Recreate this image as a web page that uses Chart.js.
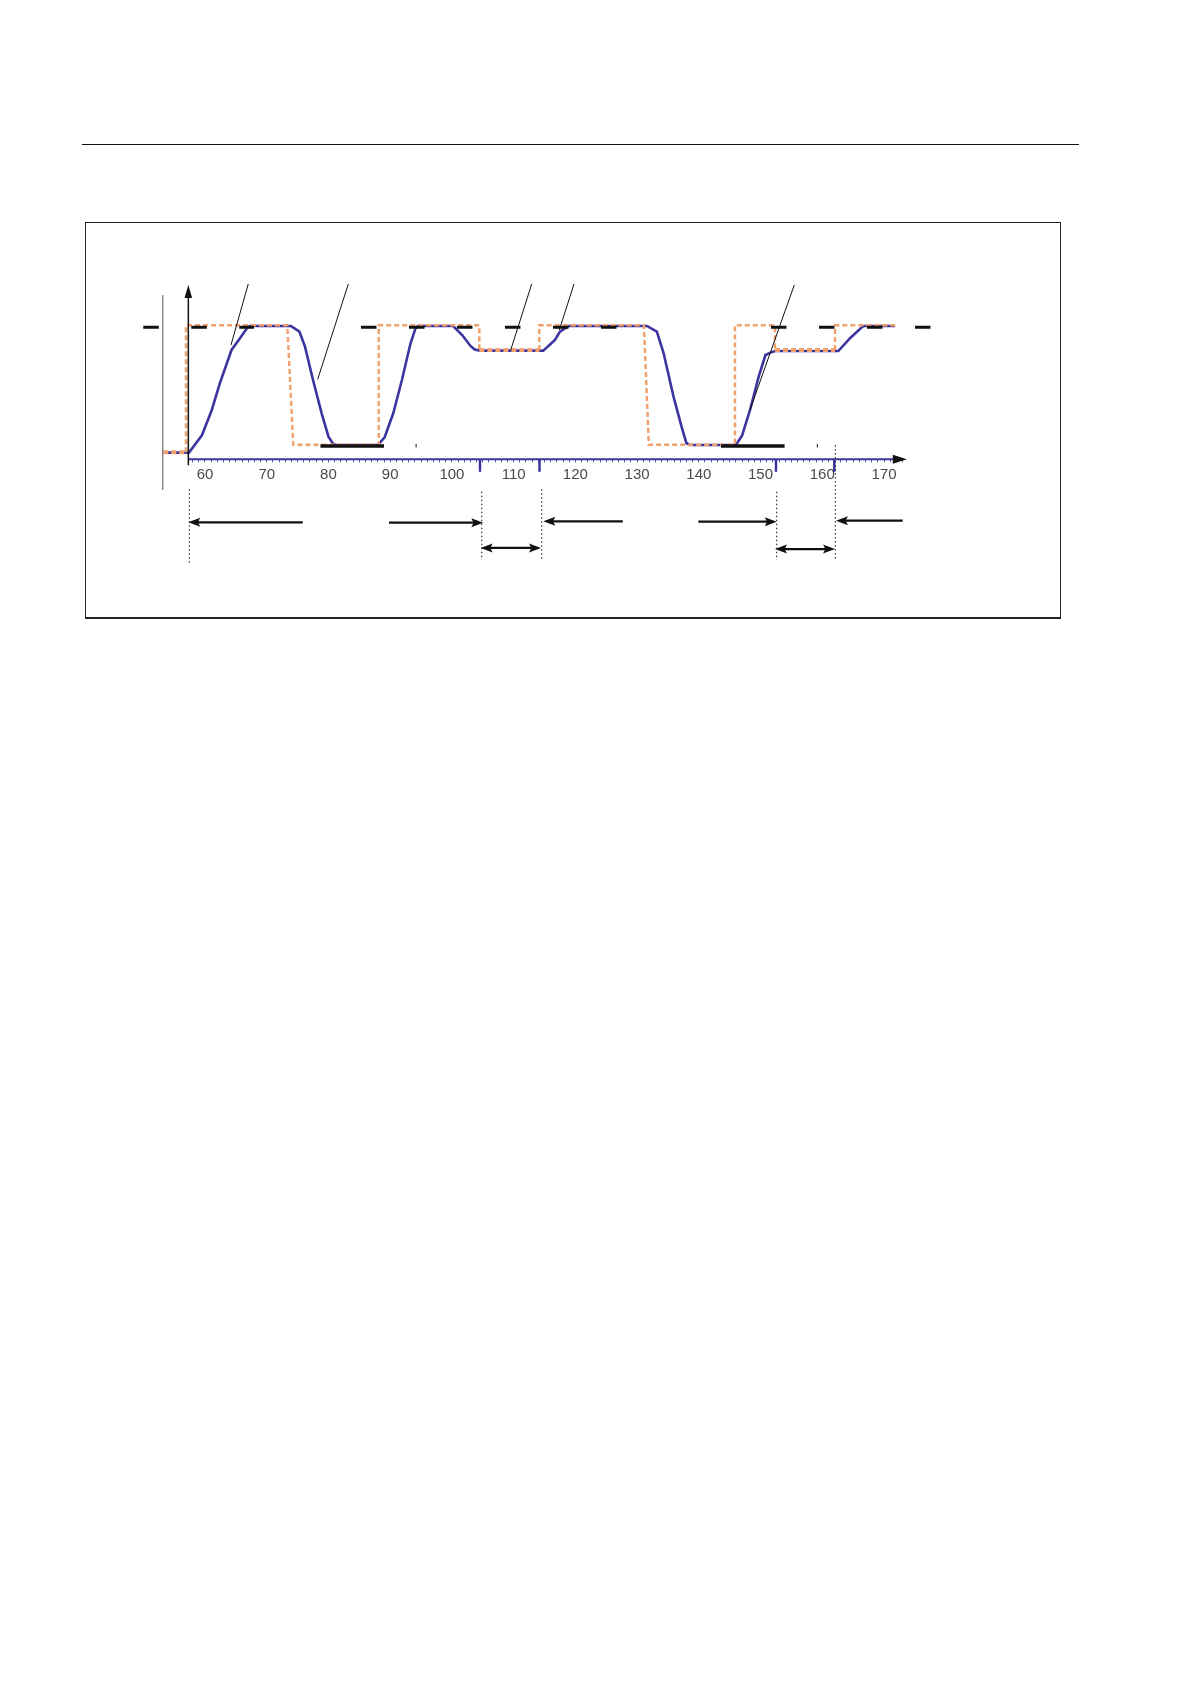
<!DOCTYPE html>
<html>
<head>
<meta charset="utf-8">
<title>Setpoint / actual trace</title>
<script src="https://cdn.jsdelivr.net/npm/chart.js@4.4.1/dist/chart.umd.min.js"></script>
<style>
  html, body { margin: 0; padding: 0; background: #fff; }
  #page { position: relative; width: 1190px; height: 1684px; background: #fff; overflow: hidden; }
  .rule { position: absolute; left: 82px; top: 144px; width: 997px; height: 0; border-top: 1.5px solid #111; }
  .frame { position: absolute; left: 85px; top: 222px; width: 976px; height: 397px; border: 1.5px solid #222; border-bottom-width: 2px; box-sizing: border-box; }
  #trace { position: absolute; left: 0; top: 0; }
</style>
</head>
<body>
<div id="page">
  <div class="rule"></div>
  <div class="frame"></div>
  <canvas id="trace" width="1190" height="640"></canvas>
</div>
<script>
  // axis labels
  const tickLabels = [60, 70, 80, 90, 100, 110, 120, 130, 140, 150, 160, 170];

  // setpoint (orange dashed step)
  const setpointX = [53.24, 56.92, 56.92, 73.33, 74.30, 88.15, 88.15, 104.44, 104.44, 114.16, 114.16, 131.1, 131.9, 145.86, 145.86, 152.34, 152.34, 162.06, 162.06, 171.78];
  const setpointY = [5.25, 5.25, 100.5, 100.5, 11, 11, 100.5, 100.5, 82, 82, 100.5, 100.5, 11, 11, 100.5, 100.5, 82, 82, 100.5, 100.5];

  // actual value (blue solid)
  const actualX = [53.24, 57.4, 59.5, 61.1, 62.4, 64.3, 65.7, 66.8, 67.3, 73.9, 75.3, 76.2, 77.5, 78.9, 80.0, 80.7, 81.2, 88.0, 89.1, 90.5, 91.9, 93.3, 94.1, 94.5, 100.2, 101.7, 103.0, 103.7, 104.5, 114.8, 116.7, 117.5, 118.5, 119.0, 131.6, 133.2, 134.3, 135.9, 137.2, 138.0, 138.6, 146.0, 147.0, 148.3, 149.7, 150.8, 151.6, 152.4, 162.6, 164.5, 166.4, 166.8, 171.8];
  const actualY = [5, 5, 18, 37, 57, 82, 91, 98.3, 100, 100, 95.7, 84.5, 59.5, 34.5, 17, 12, 10.7, 10.7, 16.5, 34.5, 59.5, 87, 98.2, 100, 100, 93, 85, 82.3, 81.5, 81.5, 89.5, 95.7, 98.8, 100, 100, 95.7, 79.5, 47, 24.5, 12, 10.7, 10.7, 17.7, 37, 62, 78.2, 80, 81.2, 81.2, 90.8, 99, 100, 100];

  // black tolerance marks
  const bandLevel = 99;
  const bandRanges = [[50.0, 67.94], [85.27, 126.75], [151.69, 177.57]];
  const floorLevel = 10;
  const floorRanges = [[78.7, 89.0], [143.6, 153.9]];
  const stubX = [94.2, 159.2];

  // leader lines [x1, y1, x2, y2]
  const leaderLines = [
    [67.01, 131.5, 64.21, 85.7],
    [83.22, 131.5, 78.26, 60.0],
    [112.93, 131.5, 109.53, 82.0],
    [119.78, 131.5, 117.40, 97.0],
    [155.47, 130.8, 148.29, 37.0],
  ];

  // axis markers and the interval arrows under the axis
  const markerTicks = [104.55, 114.19, 152.5, 161.95];
  const guideX = [57.46, 104.83, 114.55, 152.62, 162.11];
  const guideTop = [-22.5, -24.3, -22.5, -24.3, 10.7];
  const guideBottom = [-78, -75.5, -75.5, -75.5, -75.9];
  const arrowFrom = [75.83, 89.81, 127.67, 139.92, 173.03];
  const arrowTo = [57.29, 105.08, 114.81, 152.62, 162.22];
  const arrowY = [-47.3, -47.5, -46.5, -46.8, -46.0];
  const spanFrom = [104.66, 152.34];
  const spanTo = [114.43, 162.06];
  const spanY = [-66.5, -67.3];

  const originX = 57.3;
  const axisLeftX = 53.15;
  const axisLeftTop = 123.2;
  const axisLeftBottom = -23;
  const yAxisTop = 130.7;

  const orange = '#F2A06C';
  const blue = '#3C35A0';
  const labelFont = "'Liberation Sans Narrow', 'Arial Narrow', 'Liberation Sans', sans-serif";

  const minorTicks = [];
  for (let v = 58; v <= 173; v++) minorTicks.push(v);

  const toPoints = (xs, ys) => xs.map((x, i) => ({ x, y: ys[i] }));

  // higher order is painted first (underneath)
  const datasets = [
    {
      label: 'actual',
      data: toPoints(actualX, actualY),
      borderColor: blue,
      borderWidth: 2.6,
      clip: false,
      order: 4,
    },
    {
      label: 'setpoint',
      data: toPoints(setpointX, setpointY),
      borderColor: orange,
      borderWidth: 2.5,
      borderDash: [5, 3],
      borderCapStyle: 'butt',
      clip: false,
      order: 3,
      segment: {
        borderWidth: (ctx) => {
          const a = ctx.p0.parsed.y;
          const b = ctx.p1.parsed.y;
          return a === b && (a < 8 || (a > 70 && a < 90)) ? 4 : undefined;
        },
      },
    },
  ];

  bandRanges.forEach(([a, b]) => {
    datasets.push({
      data: [{ x: a, y: bandLevel }, { x: b, y: bandLevel }],
      borderColor: '#111',
      borderWidth: 3,
      borderDash: [15.5, 32.5],
      borderCapStyle: 'butt',
      clip: false,
      order: 1,
    });
  });

  floorRanges.forEach(([a, b]) => {
    datasets.push({
      data: [{ x: a, y: floorLevel }, { x: b, y: floorLevel }],
      borderColor: '#111',
      borderWidth: 3.5,
      borderCapStyle: 'butt',
      clip: false,
      order: 1,
    });
  });

  leaderLines.forEach(([x1, y1, x2, y2]) => {
    datasets.push({
      data: [{ x: x1, y: y1 }, { x: x2, y: y2 }],
      borderColor: '#111',
      borderWidth: 1,
      clip: false,
      order: 0,
    });
  });

  function arrowHead(ctx, tipX, tipY, dir, len, half) {
    ctx.beginPath();
    ctx.moveTo(tipX, tipY);
    ctx.lineTo(tipX - dir * len, tipY - half);
    ctx.lineTo(tipX - dir * len * 0.8, tipY);
    ctx.lineTo(tipX - dir * len, tipY + half);
    ctx.closePath();
    ctx.fill();
  }

  const decorations = {
    id: 'decorations',
    beforeDatasetsDraw(chart) {
      // horizontal axis line, starting at the vertical axis
      const { ctx, scales: { x, y } } = chart;
      const oy = y.getPixelForValue(0);
      ctx.save();
      ctx.strokeStyle = blue;
      ctx.lineWidth = 2;
      ctx.beginPath();
      ctx.moveTo(x.getPixelForValue(originX), oy);
      ctx.lineTo(x.getPixelForValue(x.max) - 6, oy);
      ctx.stroke();
      ctx.restore();
    },
    afterDraw(chart) {
      const { ctx, scales: { x, y } } = chart;
      ctx.save();

      // thin grey line at the left
      ctx.strokeStyle = '#8a8a8a';
      ctx.lineWidth = 1.5;
      ctx.beginPath();
      ctx.moveTo(x.getPixelForValue(axisLeftX), y.getPixelForValue(axisLeftTop));
      ctx.lineTo(x.getPixelForValue(axisLeftX), y.getPixelForValue(axisLeftBottom));
      ctx.stroke();

      // vertical axis with arrow
      const ox = x.getPixelForValue(originX);
      const oy = y.getPixelForValue(0);
      const topY = y.getPixelForValue(yAxisTop);
      ctx.strokeStyle = '#111';
      ctx.fillStyle = '#111';
      ctx.lineWidth = 1.5;
      ctx.beginPath();
      ctx.moveTo(ox, oy + 6);
      ctx.lineTo(ox, topY + 8);
      ctx.stroke();
      ctx.beginPath();
      ctx.moveTo(ox, topY);
      ctx.lineTo(ox - 3.8, topY + 13);
      ctx.lineTo(ox + 3.8, topY + 13);
      ctx.closePath();
      ctx.fill();

      // horizontal axis arrow head
      const ex = x.getPixelForValue(x.max);
      ctx.beginPath();
      ctx.moveTo(ex, oy);
      ctx.lineTo(ex - 14, oy - 4.5);
      ctx.lineTo(ex - 14, oy + 4.5);
      ctx.closePath();
      ctx.fill();

      // long marker ticks on the axis
      ctx.strokeStyle = blue;
      ctx.lineWidth = 2.5;
      markerTicks.forEach((v) => {
        const px = x.getPixelForValue(v);
        ctx.beginPath();
        ctx.moveTo(px, oy);
        ctx.lineTo(px, oy + 12.5);
        ctx.stroke();
      });

      // small stubs at the floor level
      ctx.strokeStyle = '#111';
      ctx.lineWidth = 1;
      stubX.forEach((v) => {
        const px = x.getPixelForValue(v);
        const py = y.getPixelForValue(floorLevel);
        ctx.beginPath();
        ctx.moveTo(px, py - 2);
        ctx.lineTo(px, py + 1.5);
        ctx.stroke();
      });

      // dotted guides
      ctx.setLineDash([1.5, 2.5]);
      ctx.lineWidth = 1;
      guideX.forEach((v, i) => {
        const px = x.getPixelForValue(v);
        ctx.beginPath();
        ctx.moveTo(px, y.getPixelForValue(guideTop[i]));
        ctx.lineTo(px, y.getPixelForValue(guideBottom[i]));
        ctx.stroke();
      });
      ctx.setLineDash([]);

      // single arrows
      ctx.lineWidth = 2.3;
      arrowFrom.forEach((v, i) => {
        const x1 = x.getPixelForValue(v);
        const x2 = x.getPixelForValue(arrowTo[i]);
        const py = y.getPixelForValue(arrowY[i]);
        const dir = x2 > x1 ? 1 : -1;
        ctx.beginPath();
        ctx.moveTo(x1, py);
        ctx.lineTo(x2 - dir * 8, py);
        ctx.stroke();
        arrowHead(ctx, x2, py, dir, 12, 4.5);
      });

      // double arrows
      spanFrom.forEach((v, i) => {
        const x1 = x.getPixelForValue(v);
        const x2 = x.getPixelForValue(spanTo[i]);
        const py = y.getPixelForValue(spanY[i]);
        ctx.beginPath();
        ctx.moveTo(x1 + 8, py);
        ctx.lineTo(x2 - 8, py);
        ctx.stroke();
        arrowHead(ctx, x1, py, -1, 12, 4.5);
        arrowHead(ctx, x2, py, 1, 12, 4.5);
      });

      ctx.restore();
    },
  };

  new Chart(document.getElementById('trace'), {
    type: 'line',
    data: { datasets },
    options: {
      responsive: false,
      animation: false,
      events: [],
      layout: {
        padding: { left: 161.79, right: 283.16, top: 285.97, bottom: 140.7 },
      },
      elements: {
        point: { radius: 0, hoverRadius: 0 },
        line: { tension: 0, borderJoinStyle: 'miter' },
      },
      plugins: {
        legend: { display: false },
        tooltip: { enabled: false },
      },
      scales: {
        x: {
          type: 'linear',
          position: 'bottom',
          min: 53,
          max: 173.7,
          afterBuildTicks: (scale) => {
            scale.ticks = minorTicks.map((v) => ({ value: v }));
          },
          afterFit: (scale) => {
            scale.height = 40;
          },
          grid: {
            display: true,
            drawOnChartArea: false,
            drawTicks: true,
            tickLength: 3,
            tickColor: '#5b58a6',
            tickWidth: 1,
          },
          border: { display: false },
          ticks: {
            autoSkip: false,
            maxRotation: 0,
            minRotation: 0,
            padding: 4,
            color: '#4a4a4a',
            font: { family: labelFont, size: 15 },
            callback: (v) => (tickLabels.includes(v) ? String(v) : ''),
          },
        },
        y: {
          type: 'linear',
          display: false,
          min: 0,
          max: 130,
        },
      },
    },
    plugins: [decorations],
  });
</script>
</body>
</html>
